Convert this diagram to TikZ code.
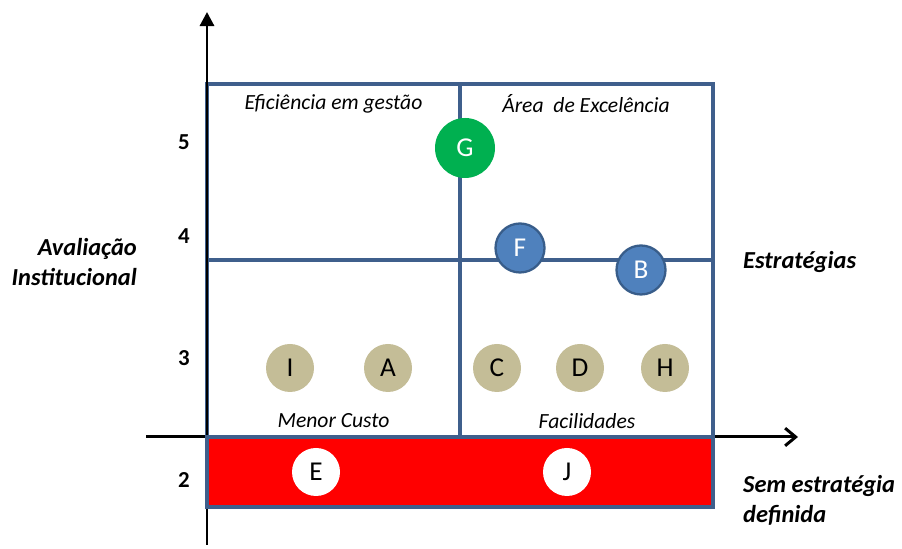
\documentclass[tikz,border=0pt]{standalone}
\usepackage{fontspec}
\setmainfont{Carlito}
\usetikzlibrary{arrows.meta}
\definecolor{gridblue}{HTML}{3F5F8C}
\definecolor{ptblue}{HTML}{4F81BD}
\definecolor{ptblueb}{HTML}{385D8A}
\definecolor{ptgreen}{HTML}{00B050}
\definecolor{pttan}{HTML}{C4BD97}
\tikzset{
  gridline/.style={draw=gridblue, line width=2.2pt},
  axisline/.style={draw=black, line width=1.7pt},
  quadlabel/.style={font=\fontsize{12.3}{14}\selectfont\itshape},
  sidelabel/.style={font=\fontsize{13.9}{17}\selectfont\bfseries\itshape},
  numlabel/.style={font=\fontsize{13}{15}\selectfont\bfseries},
  dot/.style={circle, inner sep=0pt, font=\fontsize{15.5}{17}\selectfont},
  bigdot/.style={dot, minimum size=1.2cm, fill=ptgreen, text=white},
  bluedot/.style={dot, minimum size=0.98cm, fill=ptblue, draw=ptblueb, line width=1.3pt, text=white},
  tandot/.style={dot, minimum size=0.96cm, fill=pttan, text=black},
  whitedot/.style={dot, minimum size=0.96cm, fill=white, text=black},
}
\begin{document}
\begin{tikzpicture}
\useasboundingbox (0,0) rectangle (18.04,10.98);
% grid box
\draw[gridline] (4.14,2.24) rectangle (14.26,9.3);
\draw[gridline] (9.2,2.24) -- (9.2,9.3);
\draw[gridline] (4.14,5.78) -- (14.26,5.78);
% axes
\coordinate (yb) at (4.14,0.08);
\coordinate (yt) at (4.14,10.74);
\coordinate (xl) at (2.92,2.24);
\coordinate (xr) at (15.96,2.24);
\draw[axisline, -{Triangle[length=8pt,width=8pt]}] (yb) -- (yt);
\draw[axisline, -{Straight Barb[length=6pt,width=10pt,line width=1.7pt]}] (xl) -- (xr);
% red band
\draw[gridline, fill=red] (4.14,0.84) rectangle (14.26,2.24);
% quadrant labels
\node[quadlabel] (q1) at (6.67,8.9) {Eficiência em gestão};
\node[quadlabel] (q2) at (11.72,8.9) {Área\ \ de Excelência};
\node[quadlabel] (q3) at (6.67,2.56) {Menor Custo};
\node[quadlabel] (q4) at (11.74,2.56) {Facilidades};
% numbers
\node[numlabel] (n5) at (3.68,8.14) {5};
\node[numlabel] (n4) at (3.68,6.26) {4};
\node[numlabel] (n3) at (3.68,3.82) {3};
\node[numlabel] (n2) at (3.68,1.38) {2};
% side labels
\node[sidelabel, anchor=east, align=right] (av) at (2.86,5.74) {Avaliação\\Institucional};
\node[sidelabel, anchor=west] (es) at (14.74,5.74) {Estratégias};
\node[sidelabel, anchor=west, align=left] (sd) at (14.74,0.98) {Sem estratégia\\definida};
% points
\node[bigdot] (G) at (9.3,8.02) {G};
\node[bluedot] (F) at (10.4,6.02) {F};
\node[bluedot] (B) at (12.82,5.58) {B};
\node[tandot] (I) at (5.8,3.62) {I};
\node[tandot] (A) at (7.76,3.62) {A};
\node[tandot] (C) at (9.94,3.62) {C};
\node[tandot] (D) at (11.6,3.62) {D};
\node[tandot] (H) at (13.3,3.62) {H};
\node[whitedot] (E) at (6.32,1.54) {E};
\node[whitedot] (J) at (11.34,1.54) {J};
\end{tikzpicture}
\end{document}
